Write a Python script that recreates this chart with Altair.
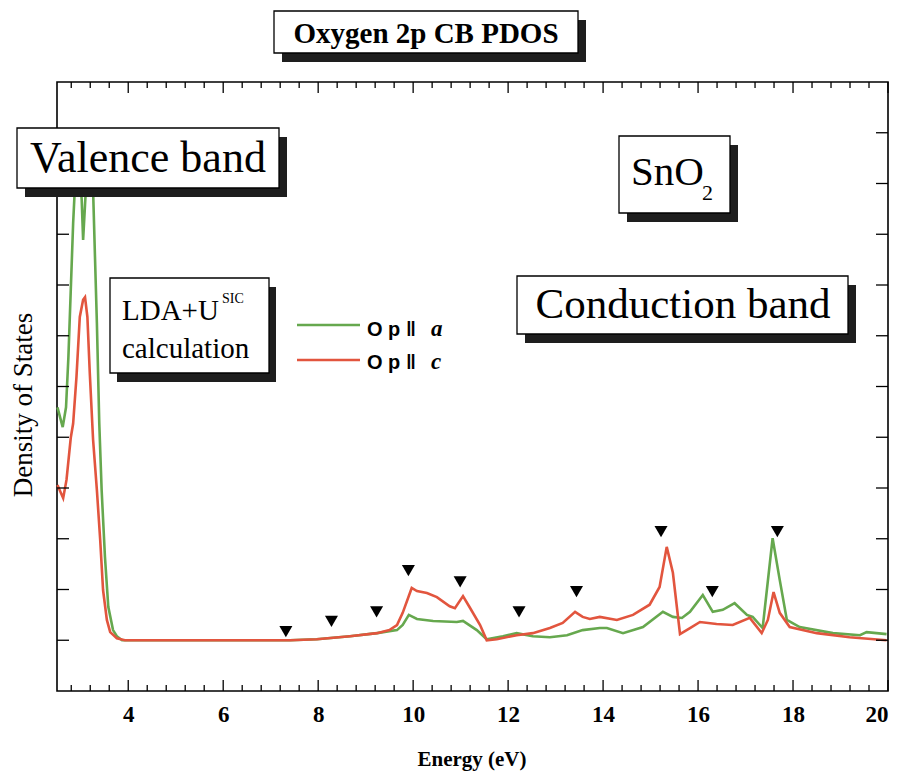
import altair as alt
import pandas as pd

# ---- data ----
energy_a = [2.51, 2.62, 2.69, 2.74, 2.79, 2.84, 2.90, 2.96, 3.02, 3.05,
            3.09, 3.15, 3.22, 3.26, 3.30, 3.34, 3.39, 3.44, 3.51, 3.58,
            3.68, 3.76, 3.87, 7.41, 7.97, 8.67, 9.24, 9.50, 9.66, 9.78,
            9.91, 10.08, 10.42, 10.92, 11.05, 11.34, 11.55, 11.89, 12.18, 12.52,
            12.88, 13.24, 13.57, 13.93, 14.08, 14.42, 14.84, 15.26, 15.47, 15.66,
            15.83, 16.10, 16.31, 16.52, 16.77, 17.03, 17.15, 17.36, 17.57, 17.72,
            17.87, 18.14, 18.84, 19.41, 19.55, 19.97]
dos_a = [4.59, 4.20, 4.59, 5.58, 6.90, 8.22, 9.37, 9.57, 8.68, 7.89,
         8.58, 9.57, 9.47, 8.87, 7.55, 6.25, 4.28, 2.96, 1.64, 0.66,
         0.20, 0.08, 0.0, 0.0, 0.02, 0.08, 0.14, 0.18, 0.20, 0.30,
         0.50, 0.42, 0.38, 0.36, 0.38, 0.20, 0.02, 0.08, 0.14, 0.08,
         0.06, 0.10, 0.20, 0.24, 0.24, 0.14, 0.26, 0.56, 0.46, 0.44,
         0.56, 0.89, 0.56, 0.60, 0.73, 0.50, 0.46, 0.24, 2.01, 1.19,
         0.40, 0.26, 0.14, 0.10, 0.16, 0.12]

energy_c = [2.51, 2.63, 2.70, 2.79, 2.84, 2.91, 2.98, 3.05, 3.09, 3.14,
            3.19, 3.26, 3.34, 3.41, 3.47, 3.55, 3.62, 3.76, 3.93, 7.41,
            7.97, 8.67, 9.24, 9.50, 9.66, 9.78, 9.97, 10.08, 10.29, 10.50,
            10.77, 10.88, 11.05, 11.19, 11.41, 11.55, 11.76, 12.18, 12.52, 12.88,
            13.15, 13.41, 13.57, 13.72, 13.93, 14.29, 14.63, 14.98, 15.19, 15.34,
            15.47, 15.62, 15.83, 16.04, 16.39, 16.73, 17.09, 17.34, 17.47, 17.59,
            17.72, 17.93, 18.50, 19.19, 19.97]
dos_c = [3.06, 2.80, 3.16, 3.99, 4.27, 5.19, 6.37, 6.71, 6.76, 6.37,
         5.27, 3.95, 2.96, 1.97, 0.99, 0.40, 0.16, 0.04, 0.0, 0.0,
         0.02, 0.08, 0.14, 0.20, 0.30, 0.54, 1.03, 0.97, 0.93, 0.85,
         0.67, 0.63, 0.87, 0.65, 0.30, 0.0, 0.02, 0.10, 0.14, 0.24,
         0.34, 0.56, 0.46, 0.42, 0.46, 0.40, 0.50, 0.70, 1.05, 1.84,
         1.33, 0.12, 0.24, 0.36, 0.32, 0.30, 0.44, 0.14, 0.40, 0.95,
         0.54, 0.26, 0.14, 0.06, 0.00]

marker_energy = [7.32, 8.28, 9.23, 9.90, 10.99, 12.23, 13.44, 15.22, 16.30, 17.67]
marker_dos = [0.17, 0.37, 0.56, 1.37, 1.15, 0.56, 0.96, 2.14, 0.96, 2.14]

x_major = [4, 6, 8, 10, 12, 14, 16, 18, 20]
x_minor = [2.8, 3.2, 3.6, 4.4, 4.8, 5.2, 5.6, 6.4, 6.8, 7.2, 7.6, 8.4, 8.8, 9.2, 9.6,
           10.4, 10.8, 11.2, 11.6, 12.4, 12.8, 13.2, 13.6, 14.4, 14.8, 15.2, 15.6,
           16.4, 16.8, 17.2, 17.6, 18.4, 18.8, 19.2, 19.6]
y_major = [0, 1, 2, 3, 4, 5, 6, 7, 8, 9, 10]

GREEN = "#66a84e"
RED = "#e2553e"
SERIF = "Liberation Serif"
SANS = "Liberation Sans"

W, H = 831, 609

xs = alt.Scale(domain=[2.5, 20], nice=False, zero=False)
ys = alt.Scale(domain=[-1, 11], nice=False, zero=False)
x_axis = alt.Axis(values=x_major, format="d", ticks=False, domain=False, grid=False,
                  labelFont=SERIF, labelFontWeight="bold", labelFontSize=23,
                  labelColor="black", labelPadding=12, title=None)


def X(f):
    return alt.X(f, type="quantitative", scale=xs, axis=x_axis)


def Y(f):
    return alt.Y(f, type="quantitative", scale=ys, axis=None)


df_a = pd.DataFrame({"energy": energy_a, "dos": dos_a})
df_c = pd.DataFrame({"energy": energy_c, "dos": dos_c})
df_m = pd.DataFrame({"energy": marker_energy, "dos": marker_dos})

line_a = alt.Chart(df_a).mark_line(color=GREEN, strokeWidth=2.6).encode(x=X("energy"), y=Y("dos"))
line_c = alt.Chart(df_c).mark_line(color=RED, strokeWidth=2.6).encode(x=X("energy"), y=Y("dos"))
markers = alt.Chart(df_m).mark_point(shape="triangle-down", filled=True, color="black",
                                     size=170, opacity=1).encode(x=X("energy"), y=Y("dos"))

# axis ticks pointing inward
tx_major = pd.DataFrame({"v": x_major})
tx_minor = pd.DataFrame({"v": x_minor})
ty_major = pd.DataFrame({"v": y_major})
tick_layers = []
for d, L in ((tx_major, 11), (tx_minor, 6)):
    tick_layers.append(alt.Chart(d).mark_rule(color="black", strokeWidth=1.3).encode(
        x=X("v"), y=alt.value(H), y2=alt.value(H - L)))
    tick_layers.append(alt.Chart(d).mark_rule(color="black", strokeWidth=1.3).encode(
        x=X("v"), y=alt.value(0), y2=alt.value(L)))
tick_layers.append(alt.Chart(ty_major).mark_rule(color="black", strokeWidth=1.3).encode(
    y=Y("v"), x=alt.value(0), x2=alt.value(12)))
tick_layers.append(alt.Chart(ty_major).mark_rule(color="black", strokeWidth=1.3).encode(
    y=Y("v"), x=alt.value(W), x2=alt.value(W - 12)))

one = pd.DataFrame({"k": [0]})


def box(x0, y0, x1, y1, dx=8, dy=9):
    shadow = alt.Chart(one).mark_rect(fill="#1e1e1e").encode(
        x=alt.value(x0 + dx), x2=alt.value(x1 + dx), y=alt.value(y0 + dy), y2=alt.value(y1 + dy))
    face = alt.Chart(one).mark_rect(fill="white", stroke="black", strokeWidth=1.3).encode(
        x=alt.value(x0), x2=alt.value(x1), y=alt.value(y0), y2=alt.value(y1))
    return [shadow, face]


def label(text, x, y, size, align="left", weight="normal", font=SERIF, style="normal", angle=0):
    return alt.Chart(one).mark_text(text=text, align=align, baseline="alphabetic", fontSize=size,
                                    fontWeight=weight, font=font, fontStyle=style, color="black",
                                    angle=angle).encode(x=alt.value(x), y=alt.value(y))


annots = []
annots += box(217, -71, 521, -29)
annots.append(label("Oxygen 2p CB PDOS", 369, -39, 29, align="center", weight="bold"))
annots += box(-40, 46, 222, 106)
annots.append(label("Valence band", 91, 90, 44, align="center"))
annots += box(562, 54, 673, 131)
annots.append(label("SnO", 574, 103, 41))
annots.append(label("2", 645, 118, 22))
annots += box(460, 194, 791, 252)
annots.append(label("Conduction band", 626, 236, 43, align="center"))
annots += box(53, 196, 212, 291, dx=7)
annots.append(label("LDA+U", 65, 238, 29))
annots.append(label("SIC", 165, 221, 14))
annots.append(label("calculation", 65, 276, 29))

# legend
annots.append(alt.Chart(one).mark_rule(color=GREEN, strokeWidth=2.6).encode(
    x=alt.value(240), x2=alt.value(303), y=alt.value(243)))
annots.append(alt.Chart(one).mark_rule(color=RED, strokeWidth=2.6).encode(
    x=alt.value(240), x2=alt.value(303), y=alt.value(278)))
annots.append(label("O p \u2016", 310, 254, 20, weight="bold", font=SANS))
annots.append(label("a", 374, 254, 23, weight="bold", style="italic"))
annots.append(label("O p \u2016", 310, 287, 20, weight="bold", font=SANS))
annots.append(label("c", 374, 287, 23, weight="bold", style="italic"))

# axis titles
annots.append(label("Energy (eV)", 415, 684, 21, align="center", weight="bold"))
annots.append(label("Density of States", -25, 323, 27, align="center", angle=270))

chart = alt.layer(line_a, line_c, markers, *tick_layers, *annots).properties(
    width=W, height=H,
    padding={"left": 57, "top": 82, "right": 16, "bottom": 86},
    autosize=alt.AutoSizeParams(type="none"),
    background="white",
).configure_view(stroke="black", strokeWidth=1.6)

chart.save("out.html", embed_options={"renderer": "svg", "actions": False})
